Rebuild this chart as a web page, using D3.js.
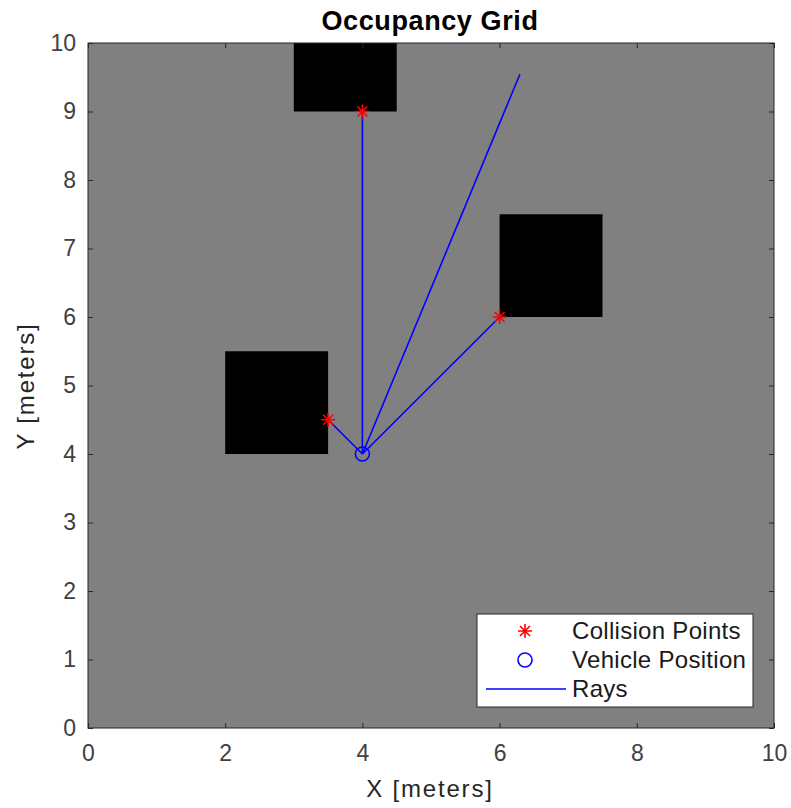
<!DOCTYPE html>
<html><head><meta charset="utf-8">
<script src="https://cdn.jsdelivr.net/npm/d3@7"></script>
<style>body{margin:0;background:#fff}text{font-family:"Liberation Sans",Arial,sans-serif}</style>
</head><body><svg id="c" width="791" height="808"></svg>
<script>
const xTicks=[0,2,4,6,8,10];
const yTicks=[0,1,2,3,4,5,6,7,8,9,10];
const obstacles=[{x0:2,x1:3.5,y0:4,y1:5.5},{x0:3,x1:4.5,y0:9,y1:10},{x0:6,x1:7.5,y0:6,y1:7.5}];
const vehicle=[4,4];
const collisionX=[3.5,4,6];
const collisionY=[4.5,9,6];
const rayEndX=[3.5,4,6,6.296];
const rayEndY=[4.5,9,6,9.543];
const legendLabels=["Collision Points","Vehicle Position","Rays"];

const svg=d3.select("#c");
const L=88,R=774,T=43,B=728;
const x=d3.scaleLinear().domain([0,10]).range([L,R]);
const y=d3.scaleLinear().domain([0,10]).range([B,T]);
const axisCol="#262626";

svg.append("rect").attr("x",L).attr("y",T).attr("width",R-L).attr("height",B-T).attr("fill","#808080");
svg.selectAll(".obs").data(obstacles).enter().append("rect")
 .attr("x",d=>x(d.x0)).attr("y",d=>y(d.y1)).attr("width",d=>x(d.x1)-x(d.x0)).attr("height",d=>y(d.y0)-y(d.y1)).attr("fill","#000");

rayEndX.forEach((ex,i)=>{
 svg.append("line").attr("x1",x(vehicle[0])).attr("y1",y(vehicle[1])).attr("x2",x(ex)).attr("y2",y(rayEndY[i]))
  .attr("stroke","#0000ff").attr("stroke-width",1.6);
});
function star(g,cx,cy,r){
 const p=d3.path();
 for(let k=0;k<4;k++){const a=k*Math.PI/4;p.moveTo(cx-r*Math.cos(a),cy-r*Math.sin(a));p.lineTo(cx+r*Math.cos(a),cy+r*Math.sin(a));}
 g.append("path").attr("d",p.toString()).attr("stroke","#ff0000").attr("stroke-width",1.6).attr("fill","none");
}
collisionX.forEach((cx,i)=>star(svg,x(cx),y(collisionY[i]),7));
svg.append("circle").attr("cx",x(vehicle[0])).attr("cy",y(vehicle[1])).attr("r",7).attr("fill","none").attr("stroke","#0000ff").attr("stroke-width",1.6);

const ax=svg.append("g").attr("transform",`translate(0,${B})`).call(d3.axisBottom(x).tickValues(xTicks).tickSize(-5).tickPadding(17).tickFormat(d3.format("d")));
const ay=svg.append("g").attr("transform",`translate(${L},0)`).call(d3.axisLeft(y).tickValues(yTicks).tickSize(-5).tickPadding(12).tickFormat(d3.format("d")));
const axT=svg.append("g").attr("transform",`translate(0,${T})`).call(d3.axisTop(x).tickValues(xTicks).tickSize(-5).tickFormat(""));
const ayR=svg.append("g").attr("transform",`translate(${R},0)`).call(d3.axisRight(y).tickValues(yTicks).tickSize(-5).tickFormat(""));
[ax,ay,axT,ayR].forEach(g=>{g.select(".domain").remove();g.selectAll("line").attr("stroke",axisCol);g.selectAll("text").attr("fill","#404040").attr("font-size",23).attr("font-family","Liberation Sans, Arial, sans-serif");});
svg.append("rect").attr("x",L).attr("y",T).attr("width",R-L).attr("height",B-T).attr("fill","none").attr("stroke",axisCol).attr("stroke-width",1);

svg.append("text").attr("x",430).attr("y",30).attr("text-anchor","middle").attr("font-size",27).attr("font-weight","bold").attr("letter-spacing",0.6).attr("fill","#000").text("Occupancy Grid");
svg.append("text").attr("x",430).attr("y",797).attr("text-anchor","middle").attr("font-size",24).attr("letter-spacing",1.8).attr("fill","#262626").text("X [meters]");
svg.append("text").attr("transform",`translate(34,386) rotate(-90)`).attr("text-anchor","middle").attr("font-size",24).attr("letter-spacing",1.8).attr("fill","#262626").text("Y [meters]");

const lg=svg.append("g");
lg.append("rect").attr("x",477).attr("y",614).attr("width",276).attr("height",93).attr("fill","#fff").attr("stroke",axisCol).attr("stroke-width",1);
const rowsY=[631,660,689];
legendLabels.forEach((t,i)=>{
 lg.append("text").attr("x",572).attr("y",rowsY[i]+8).attr("font-size",24).attr("letter-spacing",0.3).attr("fill","#1a1a1a").text(t);
});
star(lg,525,rowsY[0],7);
lg.append("circle").attr("cx",525).attr("cy",rowsY[1]).attr("r",7).attr("fill","none").attr("stroke","#0000ff").attr("stroke-width",1.6);
lg.append("line").attr("x1",486).attr("x2",566).attr("y1",rowsY[2]).attr("y2",rowsY[2]).attr("stroke","#0000ff").attr("stroke-width",1.6);
</script></body></html>
